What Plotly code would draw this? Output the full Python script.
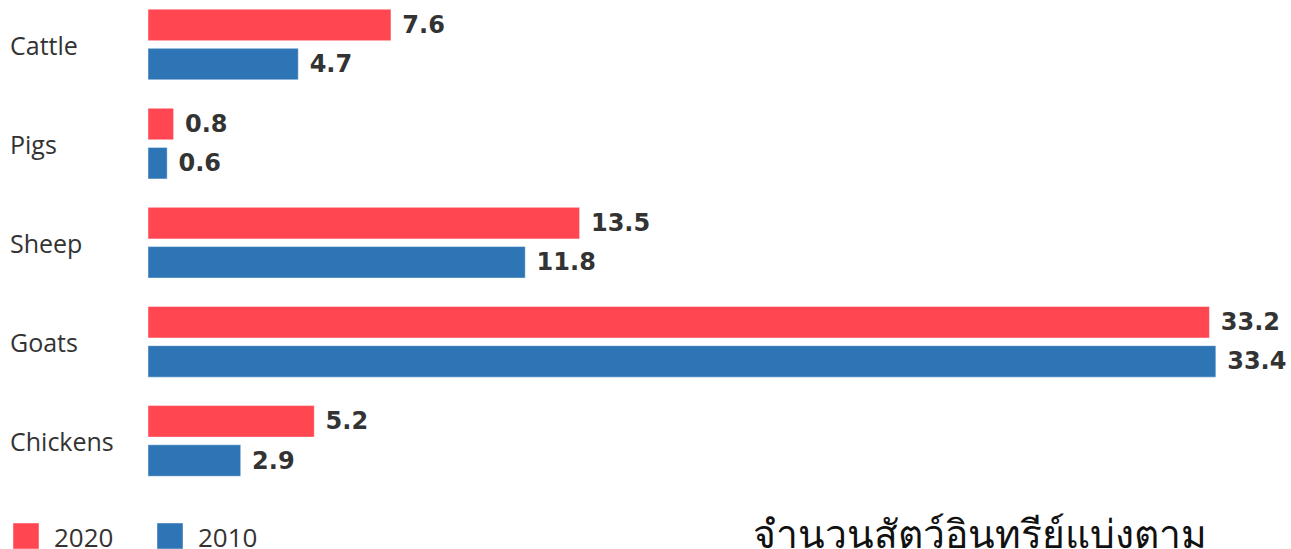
import plotly.graph_objects as go

categories = ["Cattle", "Pigs", "Sheep", "Goats", "Chickens"]
values_2020 = [7.6, 0.8, 13.5, 33.2, 5.2]
values_2010 = [4.7, 0.6, 11.8, 33.4, 2.9]
series_names = ["2020", "2010"]
title_text = "จำนวนสัตว์อินทรีย์แบ่งตาม"

RED = "#FF4651"
BLUE = "#2E75B6"
TXT = "#333333"

W, H = 1291, 549
ML, MR, MT, MB = 148, 24, 0, 59
plot_w = W - ML - MR
plot_h = H - MT - MB


def px_x(px):
    return (px - ML) / plot_w


def px_y(py):
    return (H - MB - py) / plot_h


fig = go.Figure()
series = [(series_names[0], values_2020, RED), (series_names[1], values_2010, BLUE)]
for name, vals, col in series:
    fig.add_trace(go.Bar(
        y=categories, x=vals, orientation="h", name=name,
        marker=dict(color=col, line=dict(color="rgba(255,255,255,0.45)", width=1)),
        text=[f" {v:.1f}" for v in vals], textposition="outside",
        textfont=dict(family="DejaVu Sans", size=24, color=TXT, weight="bold"),
        cliponaxis=False, showlegend=False, hoverinfo="x+y",
    ))

for c in categories:
    fig.add_annotation(
        x=px_x(8), xref="paper", xanchor="left",
        y=c, yref="y", yanchor="middle",
        text=c, showarrow=False,
        font=dict(family="Open Sans", size=25, color=TXT),
    )

# custom legend (larger swatches than plotly's built-in legend allows)
legend_left = [13, 157]
for (name, vals, col), lx in zip(series, legend_left):
    fig.add_shape(type="rect", xref="paper", yref="paper",
                  x0=px_x(lx), x1=px_x(lx + 26), y0=px_y(523), y1=px_y(549),
                  fillcolor=col, line=dict(color="rgba(255,255,255,0.45)", width=1))
    fig.add_annotation(x=px_x(lx + 39), xref="paper", xanchor="left",
                       y=px_y(537), yref="paper", yanchor="middle",
                       text=name, showarrow=False,
                       font=dict(family="Open Sans", size=26, color=TXT))

fig.update_layout(
    width=W, height=H,
    margin=dict(l=ML, r=MR, t=MT, b=MB, pad=0),
    paper_bgcolor="white", plot_bgcolor="white",
    barmode="group", bargap=0.209, bargroupgap=0.196,
    xaxis=dict(range=[0, 35], visible=False, fixedrange=True),
    yaxis=dict(type="category", range=[4.495, -0.449], showticklabels=False,
               showgrid=False, zeroline=False, showline=False, ticks="", fixedrange=True),
    showlegend=False,
    title=dict(text=title_text, xref="container", yref="container",
               x=980 / W, xanchor="center", y=15 / H, yanchor="middle",
               font=dict(size=39, color="#111111")),
)

fig.write_html("out.html", config={"displayModeBar": False},
               post_script="document.body.style.margin='0';document.body.style.overflow='hidden';")
